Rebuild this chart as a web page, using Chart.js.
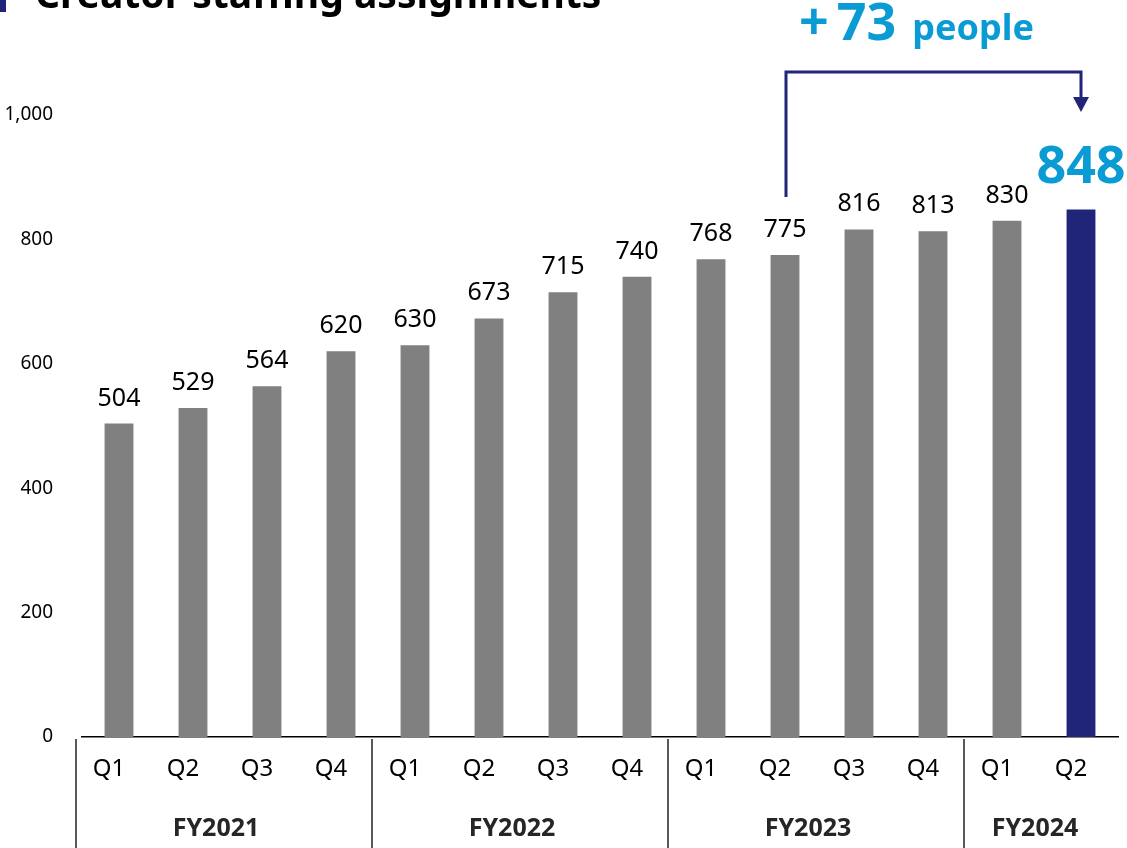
<!DOCTYPE html>
<html>
<head>
<meta charset="utf-8">
<script src="https://cdn.jsdelivr.net/npm/chart.js@4"></script>
<style>
    html, body { margin: 0; padding: 0; background: #fff; }
    #wrap { width: 1127px; height: 848px; }
</style>
</head>
<body>
<div id="wrap"><canvas id="staffChart" width="1127" height="848"></canvas></div>
<script>
// Chart data
const quarters = ['Q1', 'Q2', 'Q3', 'Q4', 'Q1', 'Q2', 'Q3', 'Q4', 'Q1', 'Q2', 'Q3', 'Q4', 'Q1', 'Q2'];
const fiscalYears = ['FY2021', 'FY2022', 'FY2023', 'FY2024'];
const quartersPerYear = [4, 4, 4, 2];
const staffCount = [504, 529, 564, 620, 630, 673, 715, 740, 768, 775, 816, 813, 830, 848];
const yTicks = [0, 200, 400, 600, 800, 1000];
const compareIndex = 9; // FY2023 Q2, year-on-year base

const GRAY = '#808080';
const NAVY = '#21257A';
const CYAN = '#0A9BD5';
const FONT = "'Noto Sans', 'Open Sans', sans-serif";
const LABEL_SHIFT = -10;

const lastIndex = staffCount.length - 1;

// Value labels, bracket arrow, group axis and title
const overlayPlugin = {
    id: 'overlay',
    afterDatasetsDraw(chart) {
        const { ctx, chartArea, scales } = chart;
        const bars = chart.getDatasetMeta(0).data;
        ctx.save();

        // value labels
        ctx.textAlign = 'center';
        ctx.textBaseline = 'alphabetic';
        bars.forEach((bar, i) => {
            if (i === lastIndex) {
                ctx.fillStyle = CYAN;
                ctx.font = `bold 52px ${FONT}`;
                ctx.fillText(staffCount[i], bar.x, bar.y - 27);
            } else {
                ctx.fillStyle = '#000';
                ctx.font = `25px ${FONT}`;
                ctx.fillText(staffCount[i], bar.x, bar.y - 18);
            }
        });

        // bracket from FY2023 Q2 to FY2024 Q2
        const from = bars[compareIndex];
        const to = bars[lastIndex];
        const topY = chartArea.top - 43;
        const tipY = chartArea.top - 3;
        ctx.strokeStyle = NAVY;
        ctx.lineWidth = 3;
        ctx.beginPath();
        ctx.moveTo(from.x + 1, from.y - 58);
        ctx.lineTo(from.x + 1, topY);
        ctx.lineTo(to.x, topY);
        ctx.lineTo(to.x, tipY - 14);
        ctx.stroke();
        ctx.fillStyle = NAVY;
        ctx.beginPath();
        ctx.moveTo(to.x - 8, tipY - 15);
        ctx.lineTo(to.x + 8, tipY - 15);
        ctx.lineTo(to.x, tipY);
        ctx.closePath();
        ctx.fill();

        // difference text
        const diff = staffCount[lastIndex] - staffCount[compareIndex];
        let tx = from.x + 14;
        const ty = 40;
        ctx.textAlign = 'left';
        ctx.fillStyle = CYAN;
        ctx.font = `bold 52px ${FONT}`;
        ctx.fillText('+', tx, ty);
        tx += ctx.measureText('+').width + 8;
        ctx.fillText(String(diff), tx, ty);
        tx += ctx.measureText(String(diff)).width + 16;
        ctx.font = `bold 36px ${FONT}`;
        ctx.fillText('people', tx, ty);

        // fiscal year groups under the quarter labels
        const x = scales.x;
        const bottom = chart.height;
        let start = 0;
        ctx.strokeStyle = '#000';
        ctx.lineWidth = 1.3;
        ctx.font = `bold 25px ${FONT}`;
        ctx.fillStyle = '#262626';
        ctx.textAlign = 'center';
        ctx.textBaseline = 'middle';
        fiscalYears.forEach((fy, g) => {
            const end = start + quartersPerYear[g];
            const left = x.getPixelForValue(start - 0.5) + LABEL_SHIFT + 4;
            const right = end > lastIndex ? chartArea.right : x.getPixelForValue(end - 0.5) + LABEL_SHIFT;
            ctx.beginPath();
            ctx.moveTo(left, chartArea.bottom + 2);
            ctx.lineTo(left, bottom);
            ctx.stroke();
            ctx.fillText(fy, (left + right) / 2 - 6, 829);
            start = end;
        });

        // title (cut at the top edge)
        ctx.fillStyle = NAVY;
        ctx.fillRect(0, 0, 6, 12);
        ctx.fillStyle = '#000';
        ctx.textAlign = 'left';
        ctx.textBaseline = 'alphabetic';
        ctx.font = `bold 39px ${FONT}`;
        ctx.fillText('Creator staffing assignments', 35, 8);

        ctx.restore();
    }
};

const ctx = document.getElementById('staffChart').getContext('2d');
new Chart(ctx, {
    type: 'bar',
    data: {
        labels: quarters,
        datasets: [{
            data: staffCount,
            backgroundColor: staffCount.map((v, i) => i === lastIndex ? NAVY : GRAY),
            borderWidth: 0,
            barPercentage: 0.39,
            categoryPercentage: 1.0
        }]
    },
    options: {
        responsive: false,
        animation: false,
        layout: {
            padding: { top: 115, right: 9, bottom: 0, left: 0 }
        },
        plugins: {
            legend: { display: false },
            tooltip: { enabled: false }
        },
        scales: {
            x: {
                grid: { display: false, drawTicks: false },
                border: { display: true, color: '#000', width: 1.5 },
                ticks: {
                    color: '#000',
                    font: { family: FONT, size: 24 },
                    padding: 18,
                    labelOffset: LABEL_SHIFT,
                    maxRotation: 0,
                    autoSkip: false
                },
                afterFit(scale) { scale.height = 111; }
            },
            y: {
                min: 0,
                max: 1000,
                afterBuildTicks(scale) {
                    scale.ticks = yTicks.map(v => ({ value: v }));
                },
                grid: { display: false, drawTicks: false },
                border: { display: false },
                ticks: {
                    color: '#000',
                    font: { family: FONT, size: 19 },
                    padding: 29,
                    callback: value => value.toLocaleString('en-US')
                },
                afterFit(scale) { scale.width = 82; }
            }
        }
    },
    plugins: [overlayPlugin]
});
</script>
</body>
</html>
